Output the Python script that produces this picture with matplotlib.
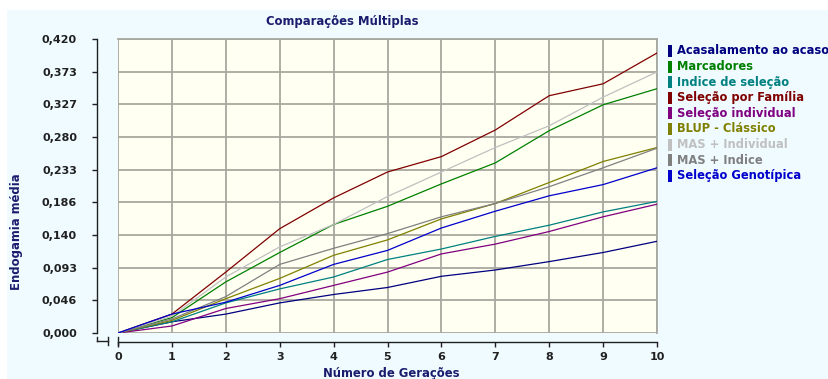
import matplotlib
matplotlib.use("Agg")
import matplotlib.pyplot as plt
from matplotlib.patches import Rectangle
from matplotlib.lines import Line2D

# generations on the x axis
geracoes = [0, 1, 2, 3, 4, 5, 6, 7, 8, 9, 10]

# mean inbreeding per method
acaso = [0, 0.016, 0.027, 0.043, 0.055, 0.065, 0.081, 0.090, 0.102, 0.115, 0.131]
marcadores = [0, 0.022, 0.073, 0.115, 0.155, 0.181, 0.213, 0.243, 0.289, 0.326, 0.349]
indice = [0, 0.016, 0.043, 0.063, 0.080, 0.105, 0.120, 0.138, 0.154, 0.173, 0.188]
familia = [0, 0.027, 0.087, 0.149, 0.193, 0.230, 0.252, 0.290, 0.339, 0.356, 0.400]
individual = [0, 0.010, 0.035, 0.049, 0.068, 0.087, 0.113, 0.127, 0.145, 0.166, 0.184]
blup = [0, 0.018, 0.049, 0.078, 0.111, 0.133, 0.163, 0.185, 0.215, 0.245, 0.265]
mas_individual = [0, 0.024, 0.080, 0.123, 0.155, 0.195, 0.230, 0.265, 0.296, 0.337, 0.373]
mas_indice = [0, 0.020, 0.052, 0.098, 0.121, 0.142, 0.166, 0.185, 0.209, 0.236, 0.264]
genotipica = [0, 0.027, 0.044, 0.068, 0.098, 0.118, 0.150, 0.174, 0.196, 0.212, 0.236]

nomes = ["Acasalamento ao acaso", "Marcadores", "Indice de seleção",
         "Seleção por Família", "Seleção individual", "BLUP - Clássico",
         "MAS + Individual", "MAS + Indice", "Seleção Genotípica"]
series = [acaso, marcadores, indice, familia, individual, blup,
          mas_individual, mas_indice, genotipica]
cores = ["#000080", "#008000", "#008080", "#800000", "#800080", "#808000",
         "#C0C0C0", "#808080", "#0000CC"]

y_labels = ["0,000", "0,046", "0,093", "0,140", "0,186", "0,233", "0,280",
            "0,327", "0,373", "0,420"]

W, H = 829, 379
fig = plt.figure(figsize=(W / 100, H / 100), dpi=100, facecolor="white")


def px(x, y):
    # pixel coords (top-left origin) -> figure fraction
    return x / W, 1 - y / H


# light cyan panel behind everything
fig.patches.append(Rectangle(px(7, H), (W - 7) / W, (H - 10) / H,
                             transform=fig.transFigure, facecolor="#EFFBFF",
                             edgecolor="none", zorder=-10))

ax = fig.add_axes([118 / W, 1 - 333 / H, (657 - 118) / W, (333 - 39) / H])
ax.set_facecolor("#FFFFF2")

for vals, cor in zip(series, cores):
    ax.plot(geracoes, vals, color=cor, lw=0.9, zorder=3)

ax.set_xlim(0, 10)
ax.set_ylim(0, 0.42)
ax.set_xticks(geracoes)
ax.set_yticks([i * 0.42 / 9 for i in range(10)])
ax.set_yticklabels(y_labels)
ax.grid(True, color="#A8A8A0", lw=1.3, zorder=1)
ax.set_axisbelow(True)

for s in ["top", "right"]:
    ax.spines[s].set_color("#A8A8A0")
    ax.spines[s].set_linewidth(1.3)
ax.spines["left"].set_position(("outward", 15))
ax.spines["bottom"].set_position(("outward", 6.5))
ax.spines["left"].set_bounds(0, 0.42)
ax.spines["bottom"].set_bounds(0, 10)
for s in ["left", "bottom"]:
    ax.spines[s].set_linewidth(1.0)
    ax.spines[s].set_color("#202020")

ax.tick_params(axis="y", length=3.5, width=1, pad=11, color="#202020",
               labelsize=8, labelcolor="#202020")
ax.tick_params(axis="x", length=3.5, width=1, pad=4, color="#202020",
               labelsize=8, labelcolor="#202020")
for lab in ax.get_xticklabels() + ax.get_yticklabels():
    lab.set_fontweight("bold")

# little axis break marks below the y axis
quebra = [((97, 337), (97, 341)), ((97, 341), (108, 341)), ((108, 337), (108, 345)),
          ((118, 337), (118, 345))]
for (x0, y0), (x1, y1) in quebra:
    a, b = px(x0, y0)
    c, d = px(x1, y1)
    fig.lines.append(Line2D([a, c], [b, d], transform=fig.transFigure,
                            color="#202020", lw=1.0))

fig.text(*px(342, 21), "Comparações Múltiplas", ha="center", va="center",
         fontsize=8.4, fontweight="bold", color="#1C1C6E")
fig.text(*px(17, 232), "Endogamia média", ha="center", va="center",
         rotation=90, fontsize=8.4, fontweight="bold", color="#1C1C6E")
fig.text(*px(391, 367), "Número de Gerações", ha="center", va="top",
         fontsize=8.4, fontweight="bold", color="#1C1C6E")

# legend on the right
for i, (nome, cor) in enumerate(zip(nomes, cores)):
    yc = 51 + i * 15.6
    fig.patches.append(Rectangle(px(668, yc + 6), 4.5 / W, 12 / H,
                                 transform=fig.transFigure, facecolor=cor,
                                 edgecolor="none"))
    fig.text(*px(677, yc), nome, ha="left", va="center", fontsize=8.3,
             fontweight="bold", color=cor)

fig.savefig("out.png", dpi=100, facecolor=fig.get_facecolor())
